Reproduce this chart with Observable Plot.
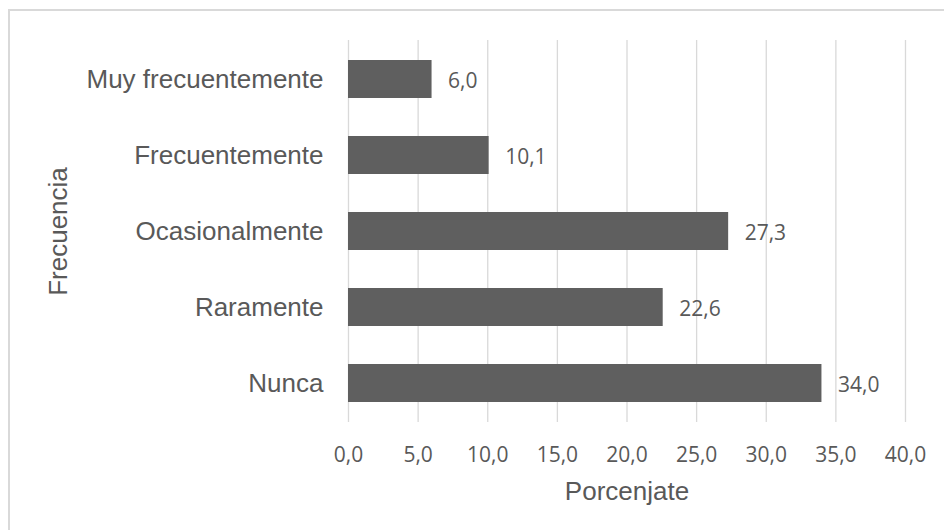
<!DOCTYPE html>
<html>
<head>
<meta charset="utf-8">
<script src="https://cdn.jsdelivr.net/npm/d3@7"></script>
<script src="https://cdn.jsdelivr.net/npm/@observablehq/plot@0.6"></script>
<style>
  html, body { margin: 0; padding: 0; background: #fff; overflow: hidden; }
  #frame { position: absolute; left: 8px; top: 9px; width: 1200px; height: 1200px;
           border: 2px solid #d9d9d9; box-sizing: border-box; }
  #chart { position: absolute; left: 0; top: 0; }
</style>
</head>
<body>
<div id="frame"></div>
<div id="chart"></div>
<script>
const categories = ["Muy frecuentemente", "Frecuentemente", "Ocasionalmente", "Raramente", "Nunca"];
const values = [6.0, 10.1, 27.3, 22.6, 34.0];
const xTicks = [0, 5, 10, 15, 20, 25, 30, 35, 40];
const xTitle = "Porcenjate";
const yTitle = "Frecuencia";

const data = categories.map((c, i) => ({cat: c, val: values[i]}));
const fmt = d => d.toFixed(1).replace(".", ",");
const textColor = "#595959";
const numFont = "'Open Sans', sans-serif";
const catFont = "'Liberation Sans', Arial, sans-serif";

const chart = Plot.plot({
  width: 944,
  height: 530,
  marginLeft: 348,
  marginRight: 39,
  marginTop: 40,
  marginBottom: 108,
  style: {background: "transparent", color: textColor},
  x: {domain: [0, 40], axis: null},
  y: {domain: categories, paddingInner: 0.5, paddingOuter: 0.25, axis: null},
  marks: [
    Plot.ruleX(xTicks, {stroke: "#d9d9d9", strokeWidth: 1.3}),
    Plot.barX(data, {x: "val", y: "cat", fill: "#5f5f5f"}),
    Plot.text(data, {x: "val", y: "cat", text: d => fmt(d.val), dx: 16, dy: 2, textAnchor: "start",
      lineAnchor: "middle", fill: textColor, fontSize: 21, fontFamily: numFont}),
    Plot.text(xTicks, {x: d => d, frameAnchor: "bottom", dy: 33, text: fmt, lineAnchor: "middle",
      textAnchor: "middle", fill: textColor, fontSize: 21, fontFamily: numFont}),
    Plot.text(categories, {y: d => d, frameAnchor: "left", dx: -25, textAnchor: "end", lineAnchor: "middle",
      text: d => d, fill: textColor, fontSize: 26, fontFamily: catFont}),
    Plot.text([xTitle], {frameAnchor: "bottom", dy: 69, text: d => d, lineAnchor: "middle",
      textAnchor: "middle", fill: textColor, fontSize: 26, fontFamily: catFont}),
    Plot.text([yTitle], {frameAnchor: "left", dx: -290, rotate: -90, text: d => d, lineAnchor: "middle",
      textAnchor: "middle", fill: textColor, fontSize: 26, fontFamily: catFont})
  ]
});
document.getElementById("chart").appendChild(chart);
</script>
</body>
</html>
